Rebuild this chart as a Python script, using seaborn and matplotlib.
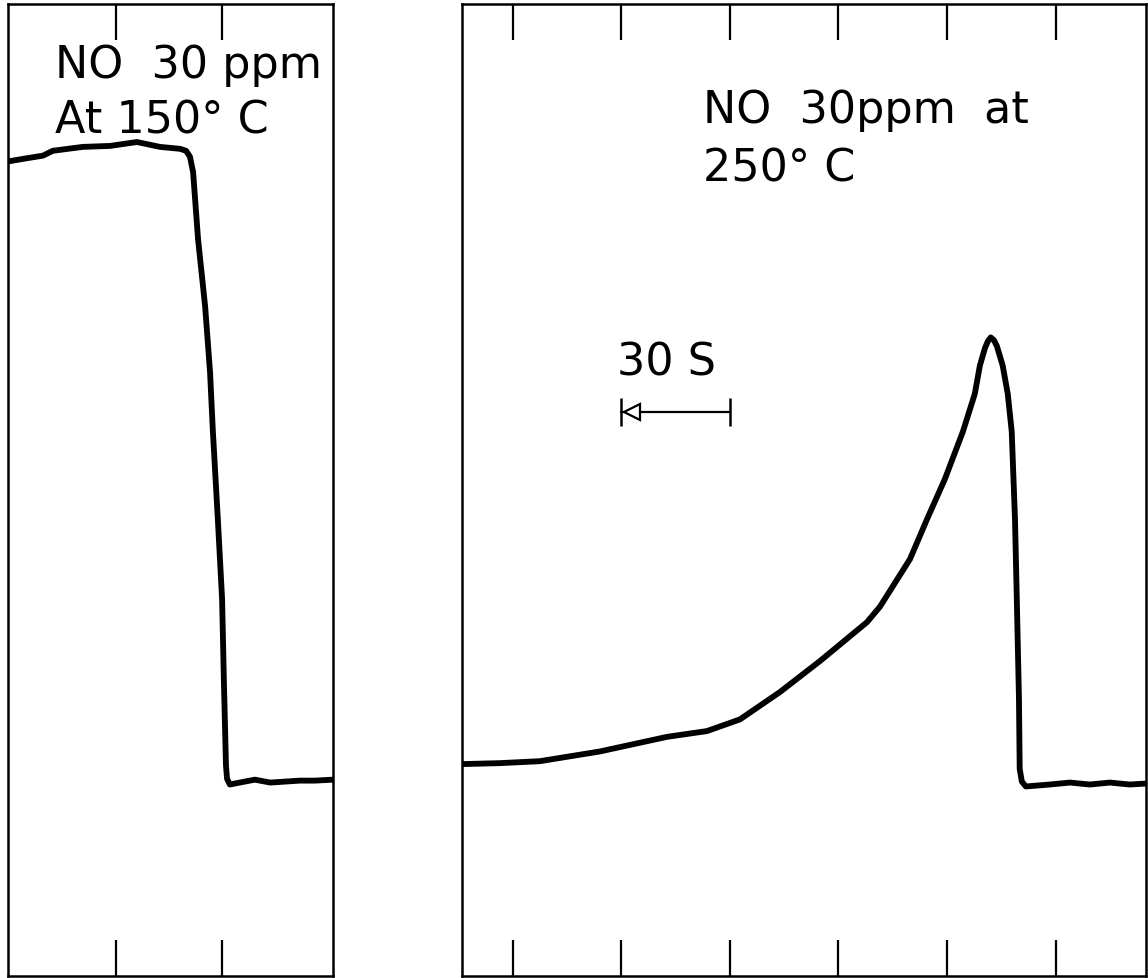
import numpy as np
import pandas as pd
import matplotlib
matplotlib.use("Agg")
import matplotlib.pyplot as plt
import seaborn as sns

# ---- data (time in s, signal in arbitrary units 0-100) ----
left_time = [0, 4.8, 9.9, 12.7, 21.2, 28.9, 36.5, 43.0, 48.7, 50.4, 51.5, 52.4, 53.8,
             55.8, 57.2, 58.0, 59.4, 60.6, 61.1, 61.7, 62.0, 62.8, 65.6, 69.9, 74.2,
             78.4, 82.6, 86.9, 92.0]
left_signal = [83.8, 84.1, 84.4, 84.9, 85.3, 85.4, 85.8, 85.3, 85.1, 84.9, 84.3, 82.7, 75.8,
               68.9, 62.1, 56.0, 47.0, 38.8, 30.6, 21.7, 20.3, 19.7, 19.9, 20.2, 19.9,
               20.0, 20.1, 20.1, 20.2]

right_time = [0, 10.5, 21.5, 38.1, 56.6, 67.7, 76.8, 87.8, 98.9, 111.9, 115.5, 123.8,
              128.5, 133.4, 138.4, 141.7, 143.1, 144.5, 145.3, 146.1, 147.0, 147.8,
              149.4, 150.8, 151.9, 152.8, 153.3, 153.9, 154.1, 154.7, 155.8, 162.4,
              168.0, 173.5, 179.0, 184.5, 189.0]
right_signal = [21.8, 21.9, 22.1, 23.1, 24.6, 25.2, 26.4, 29.2, 32.4, 36.4, 38.0, 42.9,
                47.0, 51.1, 56.0, 59.9, 62.8, 64.6, 65.3, 65.7, 65.4, 64.8,
                62.8, 59.9, 56.0, 47.0, 38.8, 28.5, 21.3, 20.0, 19.5, 19.7,
                19.9, 19.7, 19.9, 19.7, 19.8]

left_ticks = [30.5, 60.5]
right_ticks = [14, 44, 74, 104, 134, 164]

left_label = ["NO  30 ppm", "At 150° C"]
right_label = ["NO  30ppm  at", "250° C"]
scale_label = "30 S"
scale_bar = [44, 74]   # 30 s scale bar (one tick division)

sns.set_theme(style="white")
plt.rcParams['font.family'] = ['DejaVu Sans']
plt.rcParams['text.color'] = 'black'

W, H = 1148, 979
fig = plt.figure(figsize=(W / 100, H / 100), dpi=100)
fig.patch.set_facecolor("white")

axL = fig.add_axes([8 / W, 2 / H, 325 / W, 972 / H])
axR = fig.add_axes([462 / W, 2 / H, 684 / W, 972 / H])

dfL = pd.DataFrame({"t": left_time, "s": left_signal})
dfR = pd.DataFrame({"t": right_time, "s": right_signal})
sns.lineplot(data=dfL, x="t", y="s", ax=axL, color="black", lw=4.2, sort=False,
             solid_joinstyle="round", solid_capstyle="round")
sns.lineplot(data=dfR, x="t", y="s", ax=axR, color="black", lw=4.2, sort=False,
             solid_joinstyle="round", solid_capstyle="round")

axL.set_xlim(0, 92)
axR.set_xlim(0, 189)
for ax, ticks in ((axL, left_ticks), (axR, right_ticks)):
    ax.set_ylim(0, 100)
    ax.set_xticks(ticks)
    ax.set_yticks([])
    ax.set_xlabel("")
    ax.set_ylabel("")
    ax.tick_params(axis="x", direction="in", length=26, width=1.6, color="black",
                   top=True, bottom=True, labelbottom=False, labeltop=False)
    for sp in ax.spines.values():
        sp.set_visible(True)
        sp.set_color("black")
        sp.set_linewidth(1.8)
    ax.set_facecolor("white")

fs = 32
tkw = dict(fontsize=fs, va="baseline", ha="left", color="black")
axL.text(13.3, 92.5, left_label[0], **tkw)
axL.text(13.3, 86.8, left_label[1], **tkw)
axR.text(66.6, 87.9, right_label[0], **tkw)
axR.text(66.6, 81.8, right_label[1], **tkw)
axR.text(42.8, 61.9, scale_label, **tkw)

# scale bar with end caps and open arrow head
ybar = 58.0
axR.plot(scale_bar, [ybar, ybar], color="black", lw=1.6)
axR.plot(scale_bar, [ybar, ybar], ls="none", marker="|", ms=20, mew=1.8, color="black")
axR.plot([scale_bar[0] + 3.0], [ybar], ls="none", marker="<", ms=11, mew=1.6,
         mfc="white", mec="black")

fig.savefig("out.png", dpi=100, facecolor="white")
